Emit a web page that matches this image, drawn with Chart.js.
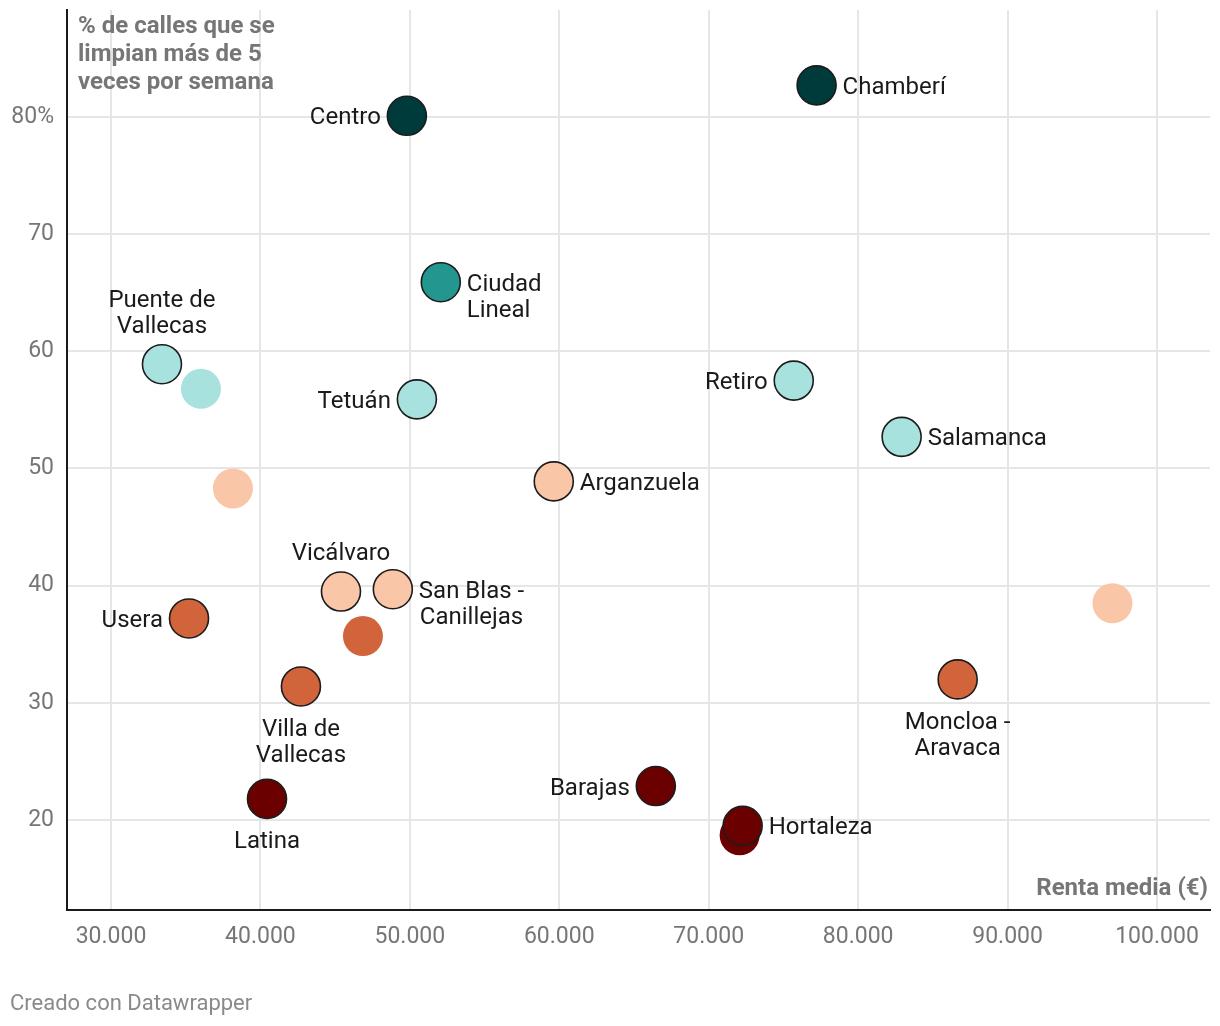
<!DOCTYPE html>
<html>
<head>
<meta charset="utf-8">
<script src="https://cdn.jsdelivr.net/npm/chart.js@4.4.1/dist/chart.umd.min.js"></script>
<style>
html,body{margin:0;padding:0;background:#fff;}
#wrap{width:1220px;height:1026px;position:relative;}
canvas{display:block;}
</style>
</head>
<body>
<div id="wrap"><canvas id="c" width="1220" height="1026"></canvas></div>
<script>
// ---- Data ----
const districts = ["Centro","Chamberí","Ciudad Lineal","Puente de Vallecas","Villaverde","Tetuán","Retiro","Salamanca","Carabanchel","Arganzuela","Vicálvaro","San Blas - Canillejas","Usera","Moratalaz","Villa de Vallecas","Latina","Barajas","Hortaleza","Fuencarral - El Pardo","Moncloa - Aravaca","Chamartín"];
const renta =     [49800, 77220, 52070, 33410, 36020, 50470, 75690, 82910, 38160, 59630, 45390, 48860, 35220, 46860, 42710, 40440, 66460, 72270, 72070, 86660, 97020];
const limpieza =  [80.1,  82.7,  65.9,  58.9,  56.8,  55.9,  57.5,  52.7,  48.3,  48.9,  39.5,  39.7,  37.2,  35.7,  31.4,  21.8,  22.9,  19.5,  18.7,  32.0,  38.5];
const grupo =     [0, 0, 1, 2, 2, 2, 2, 2, 3, 3, 3, 3, 4, 4, 4, 5, 5, 5, 5, 4, 3];
const etiquetado = [true,true,true,true,false,true,true,true,false,true,true,true,true,false,true,true,true,true,false,true,false];
const xTicks = [30000, 40000, 50000, 60000, 70000, 80000, 90000, 100000];
const yTicks = [20, 30, 40, 50, 60, 70, 80];
const yTitle = ["% de calles que se", "limpian más de 5", "veces por semana"];
const xTitle = "Renta media (€)";
const footer = "Creado con Datawrapper";

// ---- Styling ----
const palette = ["#003b3b", "#23978f", "#a8e2df", "#f9c6a7", "#d1643a", "#6b0000"];
const labelPlacement = {
  "Centro": {pos:"left", lines:["Centro"]},
  "Chamberí": {pos:"right", lines:["Chamberí"]},
  "Ciudad Lineal": {pos:"right", lines:["Ciudad","Lineal"], align:"left"},
  "Puente de Vallecas": {pos:"top", lines:["Puente de","Vallecas"]},
  "Tetuán": {pos:"left", lines:["Tetuán"]},
  "Retiro": {pos:"left", lines:["Retiro"]},
  "Salamanca": {pos:"right", lines:["Salamanca"]},
  "Arganzuela": {pos:"right", lines:["Arganzuela"]},
  "Vicálvaro": {pos:"top", lines:["Vicálvaro"]},
  "San Blas - Canillejas": {pos:"right", lines:["San Blas -","Canillejas"], align:"center"},
  "Usera": {pos:"left", lines:["Usera"]},
  "Villa de Vallecas": {pos:"bottom", lines:["Villa de","Vallecas"]},
  "Latina": {pos:"bottom", lines:["Latina"]},
  "Barajas": {pos:"left", lines:["Barajas"]},
  "Hortaleza": {pos:"right", lines:["Hortaleza"]},
  "Moncloa - Aravaca": {pos:"bottom", lines:["Moncloa -","Aravaca"]}
};
const FONT = "Roboto, 'Noto Sans', sans-serif";
const LABEL_SIZE = 24, LINE_H = 26, R = 20, BASE = 8.5;

function buildDataset(flag){
  const pts = [], bg = [], bw = [], names = [];
  districts.forEach((d,i)=>{
    if (etiquetado[i] !== flag) return;
    pts.push({x: renta[i], y: limpieza[i]});
    bg.push(palette[grupo[i]]);
    bw.push(flag ? 1.6 : 0);
    names.push(d);
  });
  return {data: pts, backgroundColor: bg, borderColor: "#1c1c1c", borderWidth: bw,
          pointRadius: flag ? 19.5 : 20, pointHoverRadius: flag ? 19.5 : 20, names: names, labeled: flag};
}

const fmt = v => String(v).replace(/\B(?=(\d{3})+(?!\d))/g, ".");

const labelsPlugin = {
  id: "labels",
  afterDatasetsDraw(chart){
    const ctx = chart.ctx;
    ctx.save();
    ctx.font = LABEL_SIZE + "px " + FONT;
    ctx.fillStyle = "#1a1a1a";
    ctx.textBaseline = "alphabetic";
    chart.data.datasets.forEach((ds, di)=>{
      if (!ds.labeled) return;
      const meta = chart.getDatasetMeta(di);
      meta.data.forEach((el, i)=>{
        const pl = labelPlacement[ds.names[i]];
        if (!pl) return;
        const n = pl.lines.length;
        const widths = pl.lines.map(l => ctx.measureText(l).width);
        const maxW = Math.max(...widths);
        pl.lines.forEach((line, k)=>{
          let x, y;
          if (pl.pos === "left") {
            ctx.textAlign = "right"; x = el.x - R - 6; y = el.y + k*LINE_H;
          } else if (pl.pos === "right") {
            const left = el.x + R + 6;
            if (pl.align === "center") { ctx.textAlign = "center"; x = left + maxW/2; }
            else { ctx.textAlign = "left"; x = left; }
            y = el.y + k*LINE_H;
          } else if (pl.pos === "top") {
            ctx.textAlign = "center"; x = el.x; y = el.y - R - 20 - (n-1-k)*LINE_H;
          } else {
            ctx.textAlign = "center"; x = el.x; y = el.y + R + 21 + k*LINE_H;
          }
          ctx.fillText(line, x, y + BASE);
        });
      });
    });
    ctx.restore();
  }
};

const textPlugin = {
  id: "texts",
  afterDraw(chart){
    const ctx = chart.ctx, a = chart.chartArea;
    ctx.save();
    ctx.fillStyle = "#767676";
    ctx.font = "bold 24px " + FONT;
    ctx.textAlign = "left"; ctx.textBaseline = "alphabetic";
    yTitle.forEach((l, k)=> ctx.fillText(l, a.left + 11, 32.5 + k*28));
    ctx.textAlign = "right";
    ctx.fillText(xTitle, a.right - 2, 894.5);
    ctx.fillStyle = "#8a8a8a";
    ctx.font = "22px " + FONT;
    ctx.textAlign = "left";
    ctx.fillText(footer, 10, 1010);
    ctx.restore();
  }
};

function zeroPad(s){ s.paddingTop = 0; s.paddingBottom = 0; s.paddingLeft = 0; s.paddingRight = 0; }

new Chart(document.getElementById("c"), {
  type: "scatter",
  data: { datasets: [buildDataset(true), buildDataset(false)] },
  options: {
    responsive: false,
    animation: false,
    devicePixelRatio: 1,
    layout: { autoPadding: false, padding: { left: 0, right: 10, top: 10, bottom: 0 } },
    plugins: { legend: {display:false}, tooltip: {enabled:false} },
    scales: {
      x: {
        type: "linear", min: 27055, max: 103547,
        afterFit(s){ s.height = 116; zeroPad(s); },
        afterBuildTicks(s){ s.ticks = xTicks.map(v=>({value:v})); },
        grid: { color: "#e6e6e6", lineWidth: 2, drawTicks: false },
        border: { color: "#1a1a1a", width: 2 },
        ticks: { padding: 13, autoSkip: false, maxRotation: 0, color: "#767676",
                 font: { family: FONT, size: 23 }, callback: v => fmt(v) }
      },
      y: {
        type: "linear", min: 12.32, max: 89.13,
        afterFit(s){ s.width = 67; zeroPad(s); },
        afterBuildTicks(s){ s.ticks = yTicks.map(v=>({value:v})); },
        grid: { color: "#e6e6e6", lineWidth: 2, drawTicks: false },
        border: { color: "#1a1a1a", width: 2 },
        ticks: { padding: 13, color: "#767676",
                 font: { family: FONT, size: 23 }, callback: v => v === 80 ? "80%" : String(v) }
      }
    }
  },
  plugins: [labelsPlugin, textPlugin]
});
</script>
</body>
</html>
